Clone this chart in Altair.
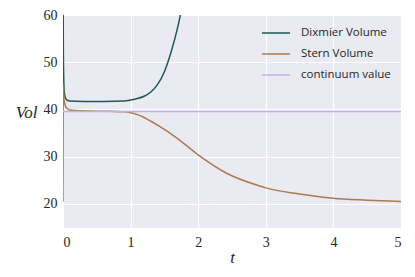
import altair as alt
import pandas as pd

dix_t = [0.0, 0.004, 0.01, 0.02, 0.04, 0.07, 0.1, 0.3, 0.6, 0.9, 1.0, 1.1, 1.2, 1.3, 1.4, 1.5, 1.6, 1.7, 1.8]
dix_v = [80.0, 56.0, 47.0, 43.5, 42.3, 41.9, 41.8, 41.7, 41.7, 41.8, 42.0, 42.3, 42.8, 43.7, 45.3, 48.0, 52.2, 57.6, 64.5]

stern_t = [0.0, 0.004, 0.01, 0.02, 0.04, 0.07, 0.1, 0.3, 0.7, 0.9, 1.0, 1.1, 1.2, 1.3, 1.43, 1.68, 2.0, 2.42, 2.91, 3.0, 3.5, 4.0, 4.5, 5.0]
stern_v = [20.5, 45.2, 43.0, 41.6, 40.6, 40.1, 39.9, 39.7, 39.6, 39.5, 39.3, 38.9, 38.3, 37.5, 36.4, 34.0, 30.4, 26.5, 23.8, 23.4, 22.1, 21.2, 20.8, 20.5]

cont_t = [0.0, 5.0]
cont_v = [39.55, 39.55]

series = ["Dixmier Volume", "Stern Volume", "continuum value"]
colors = ["#1f5a50", "#a97c50", "#c6aef2"]

rows = []
for name, ts, vs in [(series[0], dix_t, dix_v), (series[1], stern_t, stern_v), (series[2], cont_t, cont_v)]:
    for i, (t, v) in enumerate(zip(ts, vs)):
        rows.append({"series": name, "t": t, "v": v, "o": i})
df = pd.DataFrame(rows)

chart = alt.Chart(df).mark_line(strokeWidth=1.5, clip=True, interpolate="monotone").encode(
    x=alt.X("t:Q", scale=alt.Scale(domain=[0, 5], nice=False, zero=False),
            axis=alt.Axis(values=[0, 1, 2, 3, 4, 5], title="t", format="d")),
    y=alt.Y("v:Q", scale=alt.Scale(domain=[14.9, 60], nice=False, zero=False),
            axis=alt.Axis(values=[20, 30, 40, 50, 60], title="Vol")),
    color=alt.Color("series:N", scale=alt.Scale(domain=series, range=colors),
                    legend=alt.Legend(title=None, orient="none", legendX=198, legendY=3,
                                      symbolType="stroke", symbolSize=784, symbolStrokeWidth=1.5,
                                      labelFont="Open Sans", labelFontSize=11.5, labelColor="#262626",
                                      rowPadding=-10, labelOffset=10, padding=0)),
    order="o:Q",
).properties(
    width=338, height=213,
    autosize=alt.AutoSizeParams(type="none"),
    padding={"left": 55, "top": 7, "right": 6, "bottom": 41},
).configure_view(
    fill="#eaeaf2", stroke=None
).configure_axis(
    grid=True, gridColor="white", gridWidth=1.2, domain=False, ticks=False,
    labelFont="Liberation Serif", labelFontSize=14, labelColor="#262626",
    titleFont="Liberation Serif", titleFontStyle="italic", titleFontWeight="normal",
    titleFontSize=17, titleColor="#262626",
).configure_axisY(
    labelPadding=6, titleAngle=0, titleAlign="right", titleBaseline="middle",
    titleX=-26, titleY=97
).configure_axisX(
    labelPadding=7, titlePadding=0
)

chart.save("out.html", embed_options={"renderer": "svg", "actions": False})
